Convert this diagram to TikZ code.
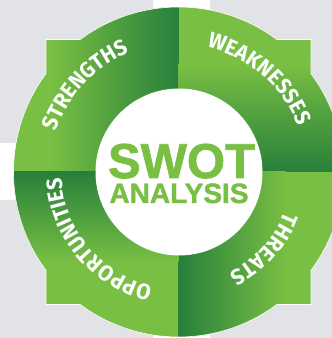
\documentclass[tikz,border=0pt]{standalone}
\usepackage{fontspec}
\usetikzlibrary{decorations.text}
\newfontfamily\lblfam[FakeStretch=0.95]{Fira Sans}
\newfontfamily\swotfam[FakeBold=1.4]{Liberation Sans}
\definecolor{lg}{RGB}{121,191,67}
\definecolor{dg}{RGB}{11,106,56}
\definecolor{bgg}{RGB}{226,227,230}
\pgfdeclareradialshading{bgshade}{\pgfpoint{0bp}{0bp}}{color(0bp)=(bgg); color(17bp)=(bgg); color(26bp)=(white); color(50bp)=(white)}
\newcommand\lblstyle{\fontsize{22}{22}\lblfam\bfseries}
\def\swotoutline{(311,67.67) arc[start angle=-36.58,end angle=36.58,radius=165] -- (311,298.5) -- (276.83,298.5) arc[start angle=53.42,end angle=126.58,radius=165] -- (46,298.5) -- (46,264.33) arc[start angle=143.42,end angle=216.58,radius=165] -- (46,33.5) -- (80.17,33.5) arc[start angle=233.42,end angle=306.58,radius=165] -- (311,33.5) -- cycle}
\tikzset{
  quadlabel/.style={decorate, decoration={text along path, text align=center, text color=white, text={|\lblstyle|#1}}},
  centertext/.style={anchor=base, text=lg, inner sep=0pt}
}
\begin{document}
\begin{tikzpicture}[x=1pt,y=1pt]
\useasboundingbox (0,0) rectangle (332,338);
\coordinate (C) at (178.5,166);
% background grey panels
\begin{scope}
  \clip (0,195) rectangle (153,338) (210,195) rectangle (332,338) (0,0) rectangle (153,138) (210,0) rectangle (332,138);
  \shade[shading=bgshade] (C) circle (480);
\end{scope}
% green badge
\fill[lg] \swotoutline;
\begin{scope}
  \clip \swotoutline;
  \begin{scope}
    \clip (0,166) rectangle (178.5,338);
    \shade[left color=lg, right color=dg] (50,160) rectangle (224,340);
  \end{scope}
  \begin{scope}
    \clip (178.5,166) rectangle (332,338);
    \shade[bottom color=dg, top color=lg] (170,130) rectangle (340,274);
  \end{scope}
  \begin{scope}
    \clip (178.5,0) rectangle (332,166);
    \shade[left color=dg, right color=lg] (142.75,-2) rectangle (285.75,170);
  \end{scope}
  \begin{scope}
    \clip (0,0) rectangle (178.5,166);
    \shade[top color=dg, bottom color=lg] (-2,76) rectangle (182,196);
  \end{scope}
\end{scope}
\draw[white, line width=0.6pt] \swotoutline;
% centre disc
\node[circle, fill=white, minimum size=167pt, inner sep=0pt] (hub) at (179,166) {};
\node[centertext, font=\swotfam\bfseries\fontsize{49}{49}\selectfont] (swot) at (181.5,160) {SWOT};
\node[centertext, font=\swotfam\bfseries\fontsize{28}{28}\selectfont] (analysis) at (179,135) {ANALYSIS};
% curved labels
\path[quadlabel=STRENGTHS] (C) ++(207:129) arc[start angle=207, end angle=67, radius=129];
\path[quadlabel=WEAKNESSES] (C) ++(119:128) arc[start angle=119, end angle=-21, radius=128];
\path[quadlabel=THREATS] (C) ++(28:113) arc[start angle=28, end angle=-112, radius=113];
\path[quadlabel=OPPORTUNITIES] (C) ++(-70:117) arc[start angle=-70, end angle=-210, radius=117];
\end{tikzpicture}
\end{document}
